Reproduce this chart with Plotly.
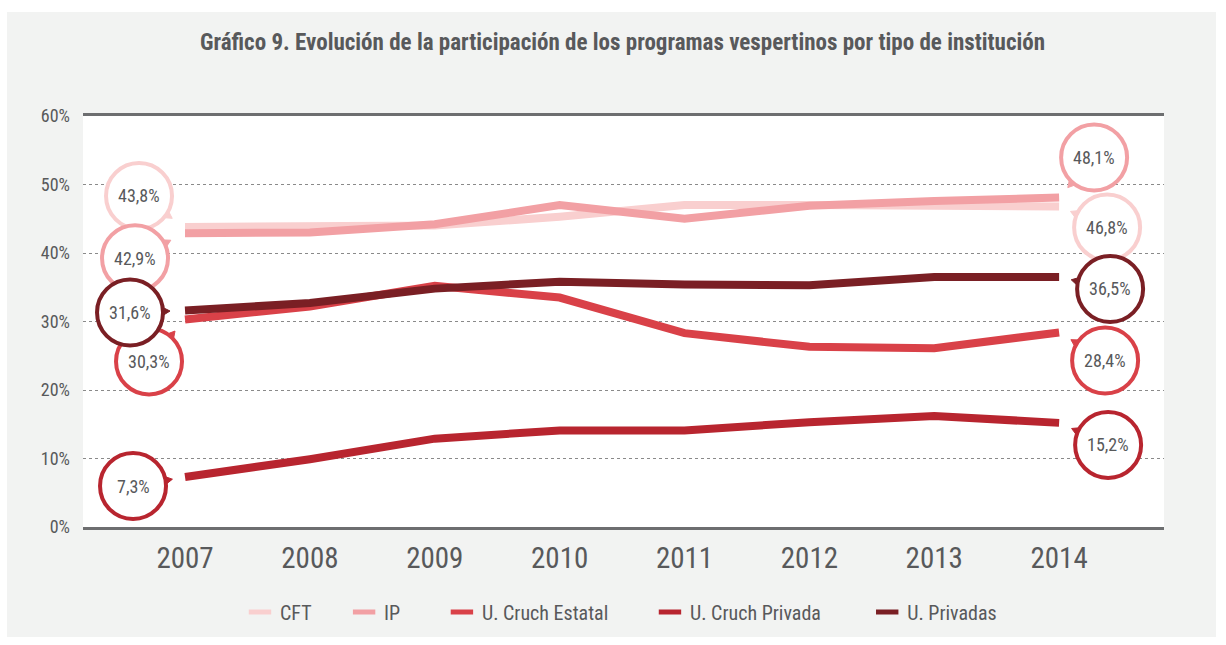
import plotly.graph_objects as go
import math

years = [2007, 2008, 2009, 2010, 2011, 2012, 2013, 2014]
series_names = ["CFT", "IP", "U. Cruch Estatal", "U. Cruch Privada", "U. Privadas"]
cft = [43.8, 44.0, 44.0, 45.3, 47.0, 47.0, 46.8, 46.8]
ip = [42.9, 43.0, 44.2, 47.0, 45.0, 46.9, 47.6, 48.1]
cruch_estatal = [30.3, 32.2, 35.2, 33.5, 28.3, 26.3, 26.1, 28.4]
cruch_privada = [7.3, 9.9, 12.9, 14.1, 14.1, 15.3, 16.2, 15.2]
privadas = [31.6, 32.7, 34.8, 35.8, 35.4, 35.3, 36.5, 36.5]
y_ticks = [0, 10, 20, 30, 40, 50, 60]
y_tick_labels = ["0%", "10%", "20%", "30%", "40%", "50%", "60%"]

series_values = [cft, ip, cruch_estatal, cruch_privada, privadas]
colors = ["#f9cfcf", "#f2a0a4", "#d94148", "#b8252f", "#7a1f24"]
# label bubble offsets (pixels, screen-down y) from first / last point
left_off = [(-46, -31), (-50, 25), (-36, 42), (-52, 9), (-55, 2)]
right_off = [(48, 21), (35, -40), (46, 28), (49, 22), (51, 12)]
legend_pad = [6, 8, 8, 9, 0]

FONT = "Roboto Condensed, Liberation Sans Narrow, DejaVu Sans Condensed, sans-serif"
TXT = "#58595b"
W, H = 1226, 645
L, R, T, B = 83, 62, 116, 118
pw, ph = W - L - R, H - T - B

fig = go.Figure()
for name, vals, col in zip(series_names, series_values, colors):
    fig.add_trace(go.Scatter(x=years, y=vals, mode="lines", name=name,
                             line=dict(color=col, width=8), showlegend=False,
                             hoverinfo="skip"))
for name, col, p in zip(series_names, colors, legend_pad):
    fig.add_trace(go.Scatter(x=[None], y=[None], mode="markers",
                             name=name + "\u00a0" * p,
                             marker=dict(symbol="line-ew", size=22,
                                         line=dict(color=col, width=8))))

shapes = []
# gray card background and white plot area
shapes.append(dict(type="rect", xref="paper", yref="paper", layer="below",
                   x0=(7 - L) / pw, x1=(1216 - L) / pw,
                   y0=(H - B - 637) / ph, y1=(H - B - 12) / ph,
                   fillcolor="#f2f3f2", line=dict(width=0)))
shapes.append(dict(type="rect", xref="paper", yref="paper", layer="below",
                   x0=0, x1=1, y0=0, y1=1, fillcolor="white", line=dict(width=0)))

annotations = []
r = 33
for vals, col, lo, ro in zip(series_values, colors, left_off, right_off):
    for xv, yv, (dx, dy) in ((years[0], vals[0], lo), (years[-1], vals[-1], ro)):
        d = math.hypot(dx, dy)
        ux, uy = -dx / d, -dy / d
        px, py = -uy, ux
        tip = (dx + ux * (r + 7), dy + uy * (r + 7))
        b1 = (dx + ux * (r - 2) + px * 5, dy + uy * (r - 2) + py * 5)
        b2 = (dx + ux * (r - 2) - px * 5, dy + uy * (r - 2) - py * 5)
        path = "M{:.1f},{:.1f} L{:.1f},{:.1f} L{:.1f},{:.1f} Z".format(
            tip[0], -tip[1], b1[0], -b1[1], b2[0], -b2[1])
        shapes.append(dict(type="path", xref="x", yref="y", xsizemode="pixel",
                           ysizemode="pixel", xanchor=xv, yanchor=yv, path=path,
                           fillcolor=col, line=dict(color=col, width=1), layer="above"))
        shapes.append(dict(type="circle", xref="x", yref="y", xsizemode="pixel",
                           ysizemode="pixel", xanchor=xv, yanchor=yv,
                           x0=dx - r, x1=dx + r, y0=-dy - r, y1=-dy + r,
                           fillcolor="white", line=dict(color=col, width=4),
                           layer="above"))
        annotations.append(dict(x=xv, y=yv, xref="x", yref="y", showarrow=False,
                                xshift=dx, yshift=-dy,
                                text=f"{yv:.1f}".replace(".", ",") + "%",
                                font=dict(family=FONT, size=18, color=TXT)))

annotations.append(dict(xref="paper", yref="paper", x=(622 - L) / pw,
                        y=(H - B - 42) / ph, showarrow=False, xanchor="center",
                        yanchor="middle",
                        text="<b>Gráfico 9. Evolución de la participación de los programas vespertinos por tipo de institución</b>",
                        font=dict(family=FONT, size=23, color=TXT)))

fig.update_layout(
    width=W, height=H, margin=dict(l=L, r=R, t=T, b=B, autoexpand=False),
    paper_bgcolor="white", plot_bgcolor="white",
    shapes=shapes, annotations=annotations,
    font=dict(family=FONT, color=TXT),
    showlegend=True,
    legend=dict(orientation="h", xanchor="left", x=(240 - L) / pw,
                yanchor="middle", y=(H - B - 612) / ph,
                font=dict(family=FONT, size=20, color=TXT),
                bgcolor="rgba(0,0,0,0)", itemwidth=30, tracegroupgap=0),
    xaxis=dict(range=[2006.183, 2014.84], tickvals=years,
               ticktext=[str(y) for y in years], showgrid=False,
               showline=True, mirror=True, linecolor="#6d6e70", linewidth=3,
               ticks="", tickfont=dict(family=FONT, size=29, color=TXT),
               ticklabelstandoff=3, zeroline=False, automargin=False),
    yaxis=dict(range=[0, 60], tickvals=y_ticks, ticktext=y_tick_labels,
               showgrid=True, gridcolor="#8a8a8a", griddash="dot", gridwidth=1,
               showline=False, zeroline=False, ticks="",
               tickfont=dict(family=FONT, size=18, color=TXT),
               ticklabelstandoff=12, automargin=False),
)
fig.write_html("out.html", config={"displayModeBar": False},
               post_script="document.body.style.margin='0';document.body.style.overflow='hidden';")
